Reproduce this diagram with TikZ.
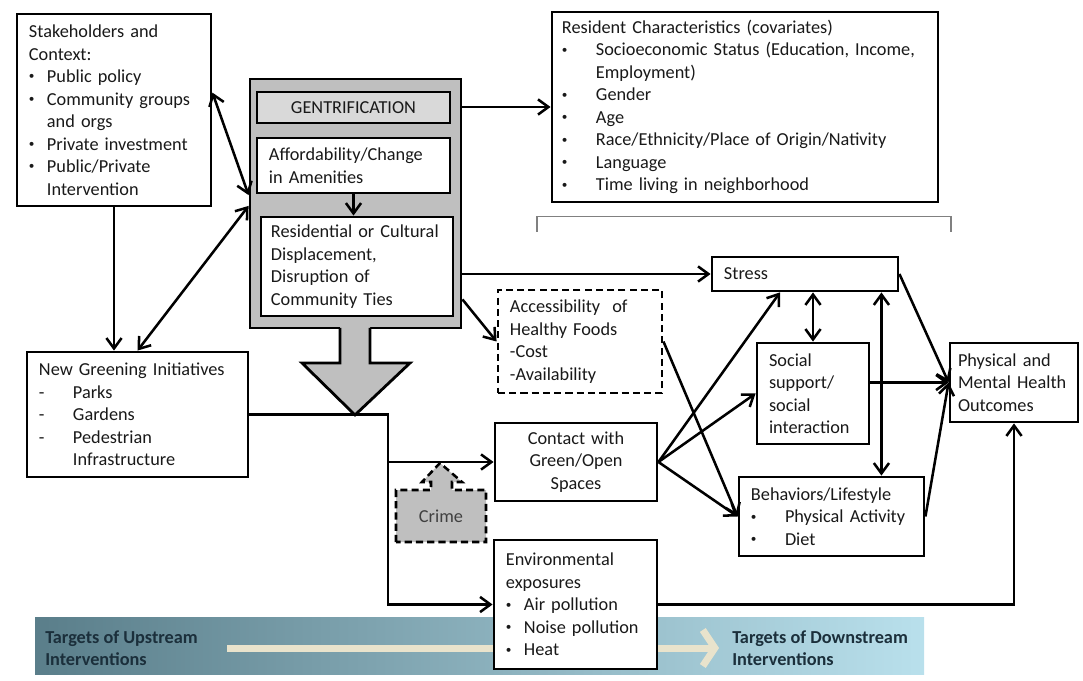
\documentclass[tikz,border=0pt]{standalone}
\usepackage{fontspec}
\setmainfont{Carlito}
\usetikzlibrary{arrows.meta,positioning}

\definecolor{barleft}{HTML}{5A7E8A}
\definecolor{barright}{HTML}{B9E0EC}
\definecolor{beige}{HTML}{E9E3CC}
\definecolor{bartext}{HTML}{1B2F3B}

\newcommand{\smalldot}{\raisebox{0.14em}{\fontsize{8}{8}\selectfont•}}
\newcommand{\bul}{\makebox[0.45cm][l]{\smalldot}}
\newcommand{\wbul}{\makebox[0.85cm][l]{\smalldot}}
\newcommand{\dsh}{\makebox[0.85cm][l]{-}}

\begin{document}
\begin{tikzpicture}[x=0.025cm, y=0.025cm,
    >={Straight Barb[length=2.6mm,width=3.8mm]},
    box/.style={draw, line width=2pt, fill=white, align=left, inner xsep=0.3cm, inner ysep=0.1cm,
                text=black!90, font=\fontsize{13}{16}\selectfont},
    link/.style={line width=1.8pt, ->},
    bothway/.style={line width=1.8pt, <->},
    target/.style={align=left, inner xsep=0.125cm, text=bartext, font=\fontsize{13}{16}\selectfont\bfseries}]

    \useasboundingbox (0,0) rectangle (1083,-681);

    % Upstream / downstream band
    \shade[left color=barleft, right color=barright] (35,-617) rectangle (924,-674);
    \node[target, anchor=west] (up) at (40,-648) {Targets of Upstream\\Interventions};
    \node[target, anchor=west] (down) at (727,-648) {Targets of Downstream\\Interventions};
    \draw[line width=0.175cm, beige, -{Straight Barb[length=0.3cm,width=0.9cm]}, shorten <=0.6cm, shorten >=0.2cm] (up.east) -- (down.west);

    % Gentrification block with its arrow
    \node[draw, line width=2pt, fill=gray!50, minimum width=5.275cm, minimum height=6.225cm] (gent) at (355.5,-203.5) {};
    \fill[gray!50] (340,-325) -- (340,-363) -- (302,-363) -- (355,-415) -- (410,-363) -- (370,-363) -- (370,-325) -- cycle;
    \draw[line width=2pt] (340,-328) -- (340,-363) -- (302,-363) -- (355,-415) -- (410,-363) -- (370,-363) -- (370,-328);
    \node[box, fill=gray!30, align=center, minimum width=4.825cm, minimum height=0.775cm] (gentlbl) at (353.5,-107.5) {GENTRIFICATION};
    \node[box, minimum width=4.825cm, minimum height=1.375cm, text width=4.225cm] (afford) at (353.5,-165.5)
        {Affordability/Change\\in Amenities};
    \node[box, inner xsep=0.25cm, minimum width=4.8cm, minimum height=2.475cm, text width=4.3cm] (resid) at (357,-266.5)
        {Residential or Cultural\\Displacement,\\Disruption of\\Community Ties};

    % Left column
    \node[box, minimum width=4.85cm, minimum height=4.8cm, text width=4.25cm] (stake) at (114,-110)
        {Stakeholders and\\Context:\\\bul Public policy\\\bul Community groups\\\hspace*{0.45cm}and orgs\\\bul Private investment\\\bul Public/Private\\\hspace*{0.45cm}Intervention};
    \node[box, minimum width=5.525cm, minimum height=3.125cm, text width=4.925cm] (newgreen) at (137.5,-414.5)
        {New Greening Initiatives\\\dsh Parks\\\dsh Gardens\\\dsh Pedestrian\\\hspace*{0.85cm}Infrastructure};

    % Covariates
    \node[box, inner xsep=0.25cm, minimum width=9.65cm, minimum height=4.75cm, text width=9.15cm] (rc) at (745,-107)
        {Resident Characteristics (covariates)\\\wbul Socioeconomic Status (Education, Income,\\\hspace*{0.85cm}Employment)\\\wbul Gender\\\wbul Age\\\wbul Race/Ethnicity/Place of Origin/Nativity\\\wbul Language\\\wbul Time living in neighborhood};
    \draw[gray, line width=0.8pt] (537,-232) -- (537,-216.5) -- (951,-216.5) -- (951,-232);

    % Middle column
    \node[box, dash pattern=on 5pt off 3pt, minimum width=4.1cm, minimum height=2.575cm, text width=3.5cm] (access) at (580,-341.5)
        {Accessibility~ of\\Healthy Foods\\-Cost\\-Availability};
    \node[box, align=center, minimum width=4.05cm, minimum height=1.95cm, text width=3.45cm] (contact) at (576,-462)
        {Contact with\\Green/Open\\Spaces};
    \fill[gray!50] (396,-542) -- (396,-490) -- (431,-490) -- (431,-482) -- (422,-482) -- (440,-463) -- (462,-482) -- (452,-482) -- (452,-490) -- (486,-490) -- (486,-542) -- cycle;
    \draw[dash pattern=on 5pt off 3pt, line width=1.8pt] (396,-542) -- (396,-490) -- (431,-490) -- (431,-482) -- (422,-482) -- (440,-463) -- (462,-482) -- (452,-482) -- (452,-490) -- (486,-490) -- (486,-542) -- cycle;
    \node[text=black!75, font=\fontsize{13}{16}\selectfont] (crime) at (441,-516) {Crime};
    \node[box, minimum width=4.075cm, minimum height=3.225cm, text width=3.475cm] (env) at (575.5,-604.5)
        {Environmental\\exposures\\\bul Air pollution\\\bul Noise pollution\\\bul Heat};

    % Right columns
    \node[box, minimum width=4.65cm, minimum height=0.85cm, text width=4.05cm] (stress) at (805,-274) {Stress};
    \node[box, minimum width=2.8cm, minimum height=2.525cm, text width=2.2cm] (social) at (813,-393.5)
        {Social\\support/\\social\\interaction};
    \node[box, minimum width=4.625cm, minimum height=1.975cm, text width=4.025cm] (behav) at (831.5,-516.5)
        {Behaviors/Lifestyle\\\wbul Physical Activity\\\wbul Diet};
    \node[box, inner xsep=0.2cm, minimum width=3.2cm, minimum height=1.975cm, text width=2.8cm] (outcomes) at (1014,-382.5)
        {Physical and\\Mental Health\\Outcomes};

    % Links around gentrification
    \draw[bothway] (stake.10) -- ([yshift=0.21cm]gent.west);
    \draw[bothway] (newgreen.north) -- ([yshift=-0.06cm]gent.west);
    \draw[link] (stake.south) -- (stake.south |- newgreen.north);
    \draw[link] (gent.east |- rc.west) -- (rc.west);
    \draw[link] (afford.south) -- (afford.south |- resid.north);
    \draw[link] (gent.east |- stress.west) -- (stress.west);
    \draw[link] ([yshift=0.75cm]gent.south east) -- (access.west);

    % Greening paths
    \coordinate (jn) at (388,-414.5);
    \draw[link] (newgreen.east) -- (jn) |- (env.west);
    \draw[link] (jn |- contact.west) -- (contact.west);

    % Pathways to outcomes
    \draw[link] (contact.east) -- ([xshift=-0.625cm]stress.south);
    \draw[link] (contact.east) -- (social.west);
    \draw[link] (contact.east) -- (behav.west);
    \draw[link] (access.east) -- (behav.west);
    \draw[bothway] (stress.south -| social.north) -- (social.north);
    \draw[bothway] ([xshift=-0.45cm]stress.south east) -- ([xshift=-0.45cm]stress.south east |- behav.north);
    \draw[link] (stress.east) -- (outcomes.west);
    \draw[link] (social.east |- outcomes.west) -- (outcomes.west);
    \draw[link] (behav.east) -- (outcomes.west);
    \draw[link] (env.east) -| (outcomes.south);
\end{tikzpicture}
\end{document}
